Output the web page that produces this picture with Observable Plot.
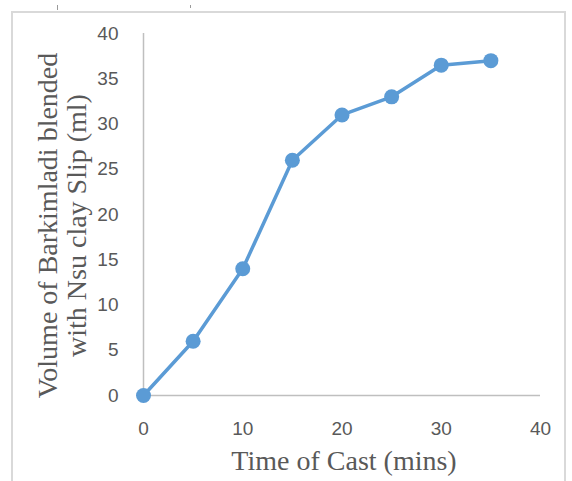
<!DOCTYPE html>
<html>
<head>
<meta charset="utf-8">
<script src="https://cdn.jsdelivr.net/npm/d3@7"></script>
<script src="https://cdn.jsdelivr.net/npm/@observablehq/plot@0.6"></script>
<style>
  html, body { margin: 0; padding: 0; background: #ffffff; }
  #wrap { position: relative; width: 572px; height: 481px; overflow: hidden; background: #ffffff; }
  #frame { position: absolute; left: 11px; top: 11px; width: 555px; height: 500px; border: 2px solid #d9d9d9; box-sizing: border-box; }
  .nick { position: absolute; width: 1px; height: 5px; top: 5px; background: #9a9a9a; }
  #wrap svg { position: absolute; left: 0; top: 0; }
</style>
</head>
<body>
<div id="wrap">
  <div id="frame"></div>
  <div class="nick" style="left:57px"></div>
  <div class="nick" style="left:190px;height:3px"></div>
</div>
<script>
const time = [0, 5, 10, 15, 20, 25, 30, 35];
const volume = [0, 6, 14, 26, 31, 33, 36.5, 37];
const xTicks = [0, 10, 20, 30, 40];
const yTicks = [0, 5, 10, 15, 20, 25, 30, 35, 40];
const xTitle = "Time of Cast (mins)";
const yTitle = "Volume of Barkimladi blended\nwith Nsu clay Slip (ml)";

const data = time.map((t, i) => ({t, v: volume[i]}));
const blue = "#5b9bd5";
const grey = "#595959";
const sans = "'Liberation Sans', Arial, sans-serif";
const serif = "'Liberation Serif', 'Times New Roman', serif";

const chart = Plot.plot({
  width: 572,
  height: 481,
  marginLeft: 143,
  marginRight: 32,
  marginTop: 33,
  marginBottom: 86,
  style: {background: "transparent", fontFamily: sans},
  x: {domain: [0, 40]},
  y: {domain: [0, 40]},
  marks: [
    Plot.ruleY([0], {x1: 0, x2: 40, stroke: "#bfbfbf", strokeWidth: 1.5}),
    Plot.ruleX([0], {y1: 0, y2: 40, stroke: "#bfbfbf", strokeWidth: 1.5}),
    Plot.axisY({ticks: yTicks, tickSize: 0, tickPadding: 25, fontSize: 19, color: grey, label: null, fontFamily: sans}),
    Plot.axisX({ticks: xTicks, tickSize: 0, tickPadding: 26, fontSize: 19, color: grey, label: null, fontFamily: sans}),
    Plot.line(data, {x: "t", y: "v", stroke: blue, strokeWidth: 3.5}),
    Plot.dot(data, {x: "t", y: "v", r: 7.5, fill: blue, stroke: "none"}),
    Plot.text([xTitle], {text: d => d, frameAnchor: "bottom", dy: 66, dx: 2, fontSize: 28, fontFamily: serif, fill: grey, lineAnchor: "middle", textAnchor: "middle"}),
    Plot.text([yTitle], {text: d => d, frameAnchor: "left", rotate: -90, dx: -81.5, dy: 11, fontSize: 28, fontFamily: serif, fill: grey, lineAnchor: "middle", textAnchor: "middle", lineHeight: 1.04})
  ]
});
document.getElementById("wrap").appendChild(chart);
</script>
</body>
</html>
